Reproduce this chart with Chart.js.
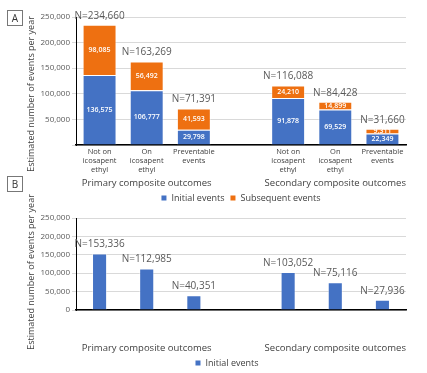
<!DOCTYPE html>
<html>
<head>
<meta charset="utf-8">
<script src="https://cdn.jsdelivr.net/npm/chart.js@4.4.1/dist/chart.umd.min.js"></script>
<style>
  body { margin: 0; background: #fff; font-family: 'Open Sans', sans-serif; }
  #wrap { position: relative; width: 427px; height: 373px; overflow: hidden; }
  canvas { position: absolute; left: 0; }
  .tag { position: absolute; left: 7px; width: 14px; height: 14px; border: 1px solid #777;
         font-size: 10px; line-height: 14px; text-align: center; color: #333; }
  .ytitle { position: absolute; font-size: 9px; color: #404040; white-space: nowrap;
            transform: translate(-50%, -50%) rotate(-90deg); }
</style>
</head>
<body>
<div id="wrap">
  <canvas id="chartA" width="427" height="210" style="top:0"></canvas>
  <canvas id="chartB" width="427" height="173" style="top:200px"></canvas>
  <div class="tag" style="top:10px">A</div>
  <div class="tag" style="top:176px">B</div>
  <div class="ytitle" style="left:30px;top:94px">Estimated number of events per year</div>
  <div class="ytitle" style="left:30px;top:272px">Estimated number of events per year</div>
</div>
<script>
// categories (the empty one is the gap between the two groups)
const categories = [
  ['Not on', 'icosapent', 'ethyl'], ['On', 'icosapent', 'ethyl'], ['Preventable', 'events'],
  '',
  ['Not on', 'icosapent', 'ethyl'], ['On', 'icosapent', 'ethyl'], ['Preventable', 'events']
];
const groupLabels = ['Primary composite outcomes', 'Secondary composite outcomes'];
const groupCenters = [1, 5];
const seriesNames = ['Initial events', 'Subsequent events'];

// panel A: stacked
const initialA    = [136575, 106777, 29798, null, 91878, 69529, 22349];
const subsequentA = [98085, 56492, 41593, null, 24210, 14899, 9311];
// panel B: initial only
const initialB    = [153336, 112985, 40351, null, 103052, 75116, 27936];

const yMax = 250000;
const yStep = 50000;

const blue = '#4472C4';
const orange = '#EE7011';
const fmt = v => v.toLocaleString('en-US');

Chart.defaults.font.family = "'Open Sans', sans-serif";

// labels, totals, group names and legend drawn on top of the bars
const annotate = {
  id: 'annotate',
  afterDatasetsDraw(chart, args, opts) {
    const ctx = chart.ctx, area = chart.chartArea, xs = chart.scales.x;
    const sets = chart.data.datasets;
    ctx.save();
    ctx.textAlign = 'center';
    ctx.textBaseline = 'middle';

    if (opts.inside) {
      ctx.fillStyle = '#fff';
      ctx.font = "600 7px 'Open Sans'";
      sets.forEach((ds, d) => {
        chart.getDatasetMeta(d).data.forEach((bar, i) => {
          if (ds.data[i] == null) return;
          ctx.fillText(fmt(ds.data[i]), bar.x, (bar.y + bar.base) / 2);
        });
      });
    }

    ctx.fillStyle = '#595959';
    ctx.font = "10px 'Open Sans'";
    chart.getDatasetMeta(sets.length - 1).data.forEach((bar, i) => {
      if (sets[0].data[i] == null) return;
      const total = sets.reduce((s, ds) => s + ds.data[i], 0);
      ctx.fillText('N=' + fmt(total), bar.x, bar.y - 9);
    });

    ctx.fillStyle = '#404040';
    ctx.font = "9.5px 'Open Sans'";
    groupLabels.forEach((g, k) => {
      ctx.fillText(g, xs.getPixelForValue(groupCenters[k]), area.bottom + 38);
    });

    // legend
    ctx.font = "9px 'Open Sans'";
    ctx.textAlign = 'left';
    const items = sets.map(ds => ({ text: ds.label, color: ds.backgroundColor, w: ctx.measureText(ds.label).width }));
    const total = items.reduce((s, it) => s + 10 + it.w, 0) + 6 * (items.length - 1);
    let lx = (area.left + area.right) / 2 + opts.legendShift - total / 2;
    const ly = area.bottom + 53;
    items.forEach(it => {
      ctx.fillStyle = it.color;
      ctx.fillRect(lx, ly - 2.5, 5, 5);
      ctx.fillStyle = '#404040';
      ctx.fillText(it.text, lx + 10, ly);
      lx += 10 + it.w + 6;
    });
    ctx.restore();
  }
};

function yScale(hideZero) {
  return {
    stacked: true, min: 0, max: yMax,
    ticks: {
      stepSize: yStep, color: '#595959', font: { size: 8 }, padding: 2,
      callback: v => (hideZero && v === 0) ? '' : fmt(v)
    },
    grid: { color: '#d9d9d9', tickLength: 4 },
    border: { color: '#000', width: 1 },
    afterFit: s => { s.width = 76; }
  };
}

new Chart(document.getElementById('chartA'), {
  type: 'bar',
  data: {
    labels: categories,
    datasets: [
      { label: seriesNames[0], data: initialA, backgroundColor: blue, borderColor: 'rgba(255,255,255,0.45)', borderWidth: 1 },
      { label: seriesNames[1], data: subsequentA, backgroundColor: orange, borderColor: 'rgba(255,255,255,0.45)', borderWidth: 1 }
    ]
  },
  options: {
    responsive: false, animation: false,
    layout: { padding: { top: 17, right: 21, left: 0, bottom: 0 } },
    datasets: { bar: { categoryPercentage: 1, barPercentage: 0.72 } },
    plugins: { legend: { display: false }, tooltip: { enabled: false }, annotate: { inside: true, legendShift: 0 } },
    scales: {
      x: {
        stacked: true,
        grid: { display: false, drawTicks: false },
        border: { color: '#000', width: 1.5 },
        ticks: { color: '#404040', font: { size: 7.5, lineHeight: 1.15 }, padding: 3, maxRotation: 0, autoSkip: false },
        afterFit: s => { s.height = 65; }
      },
      y: yScale(true)
    }
  },
  plugins: [annotate]
});

new Chart(document.getElementById('chartB'), {
  type: 'bar',
  data: {
    labels: categories,
    datasets: [
      { label: seriesNames[0], data: initialB, backgroundColor: blue, borderColor: 'rgba(255,255,255,0.45)', borderWidth: 1 }
    ]
  },
  options: {
    responsive: false, animation: false,
    layout: { padding: { top: 18, right: 21, left: 0, bottom: 0 } },
    datasets: { bar: { categoryPercentage: 1, barPercentage: 0.32 } },
    plugins: { legend: { display: false }, tooltip: { enabled: false }, annotate: { inside: false, legendShift: -14 } },
    scales: {
      x: {
        grid: { display: false, drawTicks: false },
        border: { color: '#000', width: 1.5 },
        ticks: { display: false },
        afterFit: s => { s.height = 63; }
      },
      y: yScale(false)
    }
  },
  plugins: [annotate]
});
</script>
</body>
</html>
